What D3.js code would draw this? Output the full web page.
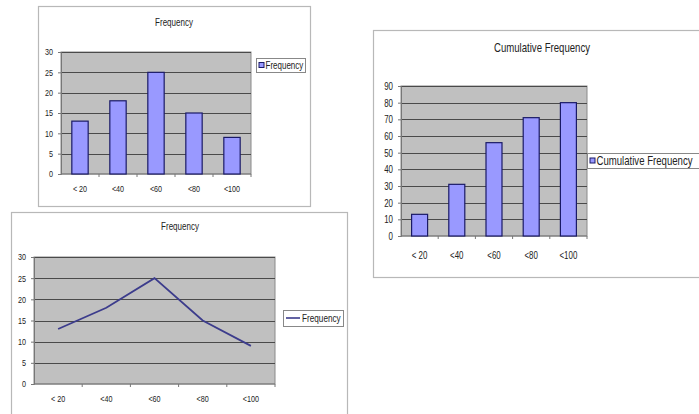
<!DOCTYPE html>
<html><head><meta charset="utf-8">
<script src="https://cdn.jsdelivr.net/npm/d3@7"></script>
<style>
html,body{margin:0;padding:0;background:#fff;overflow:hidden;}
svg text{font-family:"Liberation Sans",Arial,sans-serif;fill:#222;}
</style></head>
<body>
<svg id="c" width="699" height="414"></svg>
<script>
const categories = ["< 20", "<40", "<60", "<80", "<100"];
const frequency = [13, 18, 25, 15, 9];
const cumulativeFrequency = [13, 31, 56, 71, 80];
const freqTicks = [0, 5, 10, 15, 20, 25, 30];
const cumTicks = [0, 10, 20, 30, 40, 50, 60, 70, 80, 90];

const svg = d3.select("#c");

function label(g, x, y, txt, size, sx, anchor) {
  return g.append("text")
    .attr("transform", `translate(${x},${y}) scale(${sx},1)`)
    .attr("text-anchor", anchor || "middle")
    .attr("dy", "0.35em")
    .attr("font-size", size).text(txt);
}

function drawChart(o) {
  const g = svg.append("g");
  g.append("rect").attr("x", o.frame[0] + 0.5).attr("y", o.frame[1] + 0.5)
    .attr("width", o.frame[2]).attr("height", o.frame[3])
    .attr("fill", "#fff").attr("stroke", "#b8b8b8").attr("stroke-width", 1.2);
  label(g, o.titlePos[0], o.titlePos[1], o.title, o.titleSize, o.titleScale);

  const [px, py, pw, ph] = o.plot;
  const x = d3.scaleBand().domain(categories).range([px, px + pw]).padding(0);
  const y = d3.scaleLinear().domain([0, d3.max(o.ticks)]).range([py + ph, py]);

  g.append("rect").attr("x", px).attr("y", py).attr("width", pw).attr("height", ph)
    .attr("fill", "#c0c0c0").attr("stroke", "#8a8a8a").attr("stroke-width", 1);

  g.append("g").selectAll("line").data(o.ticks.slice(1)).join("line")
    .attr("x1", px).attr("x2", px + pw)
    .attr("y1", d => Math.round(y(d)) + 0.5).attr("y2", d => Math.round(y(d)) + 0.5)
    .attr("stroke", "#4a4a4a").attr("stroke-width", 1.2);

  const ya = d3.axisLeft(y).tickValues(o.ticks).tickSize(3).tickPadding(4);
  const yg = g.append("g").attr("transform", `translate(${px},0)`).call(ya);
  yg.select(".domain").attr("stroke", "#777");
  yg.selectAll(".tick line").attr("stroke", "#777");
  yg.selectAll("text").attr("font-size", o.tickSize).attr("fill", "#222").attr("font-family", null)
    .attr("x", -o.yPad / o.tickScale).attr("transform", `scale(${o.tickScale},1)`);

  const xg = g.append("g").attr("transform", `translate(0,${py + ph})`);
  xg.append("line").attr("x1", px).attr("x2", px + pw).attr("stroke", "#777");
  xg.selectAll("line.tk").data(categories).join("line")
    .attr("class", "tk")
    .attr("x1", (d, i) => px + x.bandwidth() * (i + 1)).attr("x2", (d, i) => px + x.bandwidth() * (i + 1))
    .attr("y1", 0).attr("y2", 3).attr("stroke", "#777");
  categories.forEach(c => label(xg, x(c) + x.bandwidth() / 2, o.xLabelDy, c, o.tickSize, o.tickScale));

  if (o.type === "bar") {
    const bw = x.bandwidth() * 0.43;
    g.append("g").selectAll("rect").data(o.values).join("rect")
      .attr("x", (d, i) => x(categories[i]) + (x.bandwidth() - bw) / 2)
      .attr("y", d => y(d)).attr("width", bw).attr("height", d => y(0) - y(d))
      .attr("fill", "#9999ff").attr("stroke", "#1a1a66").attr("stroke-width", 1.2);
  } else {
    const line = d3.line().x((d, i) => x(categories[i]) + x.bandwidth() / 2).y(d => y(d));
    g.append("path").datum(o.values).attr("d", line)
      .attr("fill", "none").attr("stroke", "#3c3c8c").attr("stroke-width", 1.8);
  }

  const [lx, ly, lw, lh] = o.legend;
  g.append("rect").attr("x", lx + 0.5).attr("y", ly + 0.5).attr("width", lw).attr("height", lh)
    .attr("fill", "#fff").attr("stroke", "#888").attr("stroke-width", 1);
  const cy = ly + lh / 2;
  let tx;
  if (o.type === "bar") {
    g.append("rect").attr("x", lx + 3).attr("y", cy - 2.5).attr("width", 5).attr("height", 5)
      .attr("fill", "#9999ff").attr("stroke", "#1a1a66").attr("stroke-width", 1);
    tx = lx + 9.5;
  } else {
    g.append("line").attr("x1", lx + 3).attr("x2", lx + 17).attr("y1", cy).attr("y2", cy)
      .attr("stroke", "#3c3c8c").attr("stroke-width", 1.6);
    tx = lx + 19;
  }
  label(g, tx, cy, o.legendText, o.legendSize, o.legendScale, "start");
}

drawChart({
  type: "bar", values: frequency, ticks: freqTicks,
  frame: [38, 6, 272, 200], title: "Frequency", titlePos: [174, 22], titleSize: 10, titleScale: 0.8,
  plot: [61, 52, 190, 122], tickSize: 9, tickScale: 0.8, yPad: 8, xLabelDy: 15,
  legend: [256, 58, 49, 14], legendText: "Frequency", legendSize: 10, legendScale: 0.8
});

drawChart({
  type: "line", values: frequency, ticks: freqTicks,
  frame: [11, 212, 336, 215], title: "Frequency", titlePos: [180, 226], titleSize: 10, titleScale: 0.8,
  plot: [34, 257, 241, 127], tickSize: 9, tickScale: 0.8, yPad: 8, xLabelDy: 15,
  legend: [283, 310, 60, 16], legendText: "Frequency", legendSize: 10, legendScale: 0.82
});

drawChart({
  type: "bar", values: cumulativeFrequency, ticks: cumTicks,
  frame: [373, 30, 340, 247], title: "Cumulative Frequency", titlePos: [542, 48], titleSize: 12, titleScale: 0.8,
  plot: [401, 86, 186, 150], tickSize: 11, tickScale: 0.72, yPad: 8, xLabelDy: 19,
  legend: [587, 153, 130, 15], legendText: "Cumulative Frequency", legendSize: 12, legendScale: 0.8
});
</script>
</body></html>
